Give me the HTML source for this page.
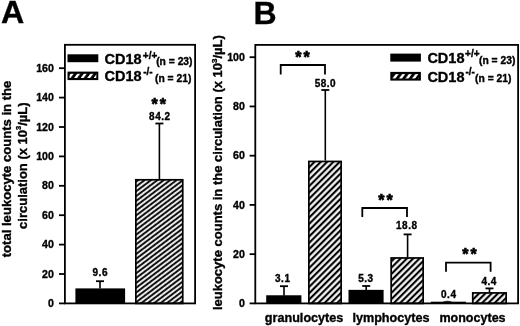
<!DOCTYPE html>
<html><head><meta charset="utf-8"><style>
html,body{margin:0;padding:0;background:#fff;width:520px;height:326px;overflow:hidden}
svg{display:block;will-change:transform}
#w{width:520px;height:326px}
text{font-family:"Liberation Sans",sans-serif;font-weight:bold;fill:#000;stroke:#000;stroke-width:0.35px}
</style></head><body>
<div id="w">
<svg width="520" height="326" viewBox="0 0 520 326">
<defs>
<pattern id="h" patternUnits="userSpaceOnUse" width="3.85" height="3.85" patternTransform="rotate(-37)">
<rect x="0" y="2.707" width="3.85" height="1.143" fill="#000"/>
<rect x="0" y="0" width="3.85" height="0.807" fill="#000"/>
</pattern>
<pattern id="hb" patternUnits="userSpaceOnUse" width="4.455" height="4.455" patternTransform="rotate(-45)">
<rect x="0" y="1.62" width="4.455" height="2.2" fill="#000"/>
</pattern>
<pattern id="hsA" patternUnits="userSpaceOnUse" width="6.55" height="40" patternTransform="skewX(-36.6)">
<rect x="1.0" y="0" width="3.0" height="40" fill="#fff"/>
</pattern>
<pattern id="hsB" patternUnits="userSpaceOnUse" width="6.55" height="40" patternTransform="skewX(-36.6)">
<rect x="-1.25" y="0" width="3.0" height="40" fill="#fff"/>
<rect x="5.3" y="0" width="3.0" height="40" fill="#fff"/>
</pattern>
</defs>
<rect width="520" height="326" fill="#fff"/>
<g>

<text x="1.0" y="23.3" font-size="32.2">A</text>
<text x="253.6" y="23.5" font-size="32">B</text>
<rect x="64.9" y="44.8" width="130.2" height="258.6" fill="none" stroke="#000" stroke-width="1.8"/>
<rect x="255.3" y="44.9" width="262.8" height="258.5" fill="none" stroke="#000" stroke-width="1.8"/>
<line x1="59" y1="303.40" x2="64.9" y2="303.40" stroke="#000" stroke-width="1.8"/>
<text x="53.9" y="307.00" font-size="10.6" text-anchor="end">0</text>
<line x1="59" y1="274.00" x2="64.9" y2="274.00" stroke="#000" stroke-width="1.8"/>
<text x="53.9" y="277.60" font-size="10.6" text-anchor="end">20</text>
<line x1="59" y1="244.60" x2="64.9" y2="244.60" stroke="#000" stroke-width="1.8"/>
<text x="53.9" y="248.20" font-size="10.6" text-anchor="end">40</text>
<line x1="59" y1="215.20" x2="64.9" y2="215.20" stroke="#000" stroke-width="1.8"/>
<text x="53.9" y="218.80" font-size="10.6" text-anchor="end">60</text>
<line x1="59" y1="185.80" x2="64.9" y2="185.80" stroke="#000" stroke-width="1.8"/>
<text x="53.9" y="189.40" font-size="10.6" text-anchor="end">80</text>
<line x1="59" y1="156.40" x2="64.9" y2="156.40" stroke="#000" stroke-width="1.8"/>
<text x="53.9" y="160.00" font-size="10.6" text-anchor="end">100</text>
<line x1="59" y1="127.00" x2="64.9" y2="127.00" stroke="#000" stroke-width="1.8"/>
<text x="53.9" y="130.60" font-size="10.6" text-anchor="end">120</text>
<line x1="59" y1="97.60" x2="64.9" y2="97.60" stroke="#000" stroke-width="1.8"/>
<text x="53.9" y="101.20" font-size="10.6" text-anchor="end">140</text>
<line x1="59" y1="68.20" x2="64.9" y2="68.20" stroke="#000" stroke-width="1.8"/>
<text x="53.9" y="71.80" font-size="10.6" text-anchor="end">160</text>
<line x1="249.6" y1="303.40" x2="255.3" y2="303.40" stroke="#000" stroke-width="1.8"/>
<text x="244.9" y="307.00" font-size="10.6" text-anchor="end">0</text>
<line x1="249.6" y1="254.16" x2="255.3" y2="254.16" stroke="#000" stroke-width="1.8"/>
<text x="244.9" y="257.76" font-size="10.6" text-anchor="end">20</text>
<line x1="249.6" y1="204.92" x2="255.3" y2="204.92" stroke="#000" stroke-width="1.8"/>
<text x="244.9" y="208.52" font-size="10.6" text-anchor="end">40</text>
<line x1="249.6" y1="155.68" x2="255.3" y2="155.68" stroke="#000" stroke-width="1.8"/>
<text x="244.9" y="159.28" font-size="10.6" text-anchor="end">60</text>
<line x1="249.6" y1="106.44" x2="255.3" y2="106.44" stroke="#000" stroke-width="1.8"/>
<text x="244.9" y="110.04" font-size="10.6" text-anchor="end">80</text>
<line x1="249.6" y1="57.20" x2="255.3" y2="57.20" stroke="#000" stroke-width="1.8"/>
<text x="244.9" y="60.80" font-size="10.6" text-anchor="end">100</text>
<rect x="75.40" y="288.39" width="49.70" height="15.01" fill="#000"/>
<line x1="100.00" y1="288.39" x2="100.00" y2="281.20" stroke="#000" stroke-width="1.6"/>
<line x1="96.00" y1="281.20" x2="104.00" y2="281.20" stroke="#000" stroke-width="1.8"/>
<text x="100.25" y="276.00" font-size="10.0" letter-spacing="0.5" text-anchor="middle">9.6</text>
<rect x="135.85" y="179.78" width="46.90" height="123.62" fill="url(#h)" stroke="#000" stroke-width="1.7"/>
<line x1="159.40" y1="178.93" x2="159.40" y2="123.50" stroke="#000" stroke-width="1.6"/>
<line x1="155.40" y1="123.50" x2="163.40" y2="123.50" stroke="#000" stroke-width="1.8"/>
<text x="159.85" y="119.70" font-size="10.0" letter-spacing="0.5" text-anchor="middle">84.2</text>
<text x="159.75" y="110.00" font-size="16" letter-spacing="2.0" text-anchor="middle" style="stroke-width:0.7px">**</text>
<rect x="266.20" y="295.27" width="35.20" height="8.13" fill="#000"/>
<line x1="284.00" y1="295.77" x2="284.00" y2="286.20" stroke="#000" stroke-width="1.6"/>
<line x1="280.00" y1="286.20" x2="288.00" y2="286.20" stroke="#000" stroke-width="1.8"/>
<text x="282.75" y="282.40" font-size="10.0" letter-spacing="0.5" text-anchor="middle">3.1</text>
<rect x="308.85" y="161.45" width="32.30" height="141.95" fill="url(#hb)" stroke="#000" stroke-width="1.7"/>
<line x1="325.30" y1="160.60" x2="325.30" y2="90.00" stroke="#000" stroke-width="1.6"/>
<line x1="321.30" y1="90.00" x2="329.30" y2="90.00" stroke="#000" stroke-width="1.8"/>
<text x="325.45" y="87.10" font-size="10.0" letter-spacing="0.5" text-anchor="middle">58.0</text>
<path d="M280.70 74.40V65.00H325.00V74.40" fill="none" stroke="#000" stroke-width="1.8"/>
<text x="303.50" y="62.50" font-size="16" letter-spacing="2.0" text-anchor="middle" style="stroke-width:0.7px">**</text>
<rect x="348.50" y="289.85" width="35.10" height="13.55" fill="#000"/>
<line x1="366.20" y1="290.35" x2="366.20" y2="286.00" stroke="#000" stroke-width="1.6"/>
<line x1="362.20" y1="286.00" x2="370.20" y2="286.00" stroke="#000" stroke-width="1.8"/>
<text x="365.85" y="282.20" font-size="10.0" letter-spacing="0.5" text-anchor="middle">5.3</text>
<rect x="391.15" y="257.96" width="32.00" height="45.44" fill="url(#hb)" stroke="#000" stroke-width="1.7"/>
<line x1="407.60" y1="257.11" x2="407.60" y2="234.40" stroke="#000" stroke-width="1.6"/>
<line x1="403.60" y1="234.40" x2="411.60" y2="234.40" stroke="#000" stroke-width="1.8"/>
<text x="406.75" y="229.00" font-size="10.0" letter-spacing="0.5" text-anchor="middle">18.8</text>
<path d="M362.30 216.90V208.00H407.00V216.90" fill="none" stroke="#000" stroke-width="1.8"/>
<text x="386.40" y="206.40" font-size="16" letter-spacing="2.0" text-anchor="middle" style="stroke-width:0.7px">**</text>
<rect x="430.80" y="301.70" width="35.20" height="1.70" fill="#000"/>
<path d="M442.5 301.8 Q447.5 299.6 452.5 301.8 Z" fill="#000"/>
<text x="448.75" y="297.70" font-size="10.0" letter-spacing="0.5" text-anchor="middle">0.4</text>
<rect x="472.75" y="292.92" width="33.40" height="10.48" fill="url(#hb)" stroke="#000" stroke-width="1.7"/>
<line x1="489.50" y1="292.07" x2="489.50" y2="288.40" stroke="#000" stroke-width="1.6"/>
<line x1="485.50" y1="288.40" x2="493.50" y2="288.40" stroke="#000" stroke-width="1.8"/>
<text x="489.15" y="284.70" font-size="10.0" letter-spacing="0.5" text-anchor="middle">4.4</text>
<path d="M446.00 271.70V262.60H490.60V271.70" fill="none" stroke="#000" stroke-width="1.8"/>
<text x="470.40" y="259.70" font-size="16" letter-spacing="2.0" text-anchor="middle" style="stroke-width:0.7px">**</text>
<text x="304.1" y="322" font-size="12.5" text-anchor="middle" textLength="78.5" lengthAdjust="spacingAndGlyphs">granulocytes</text>
<text x="391.0" y="322" font-size="12.5" text-anchor="middle" textLength="77.2" lengthAdjust="spacingAndGlyphs">lymphocytes</text>
<text x="472.5" y="322" font-size="12.5" text-anchor="middle" textLength="66.2" lengthAdjust="spacingAndGlyphs">monocytes</text>
<rect x="67.5" y="54.3" width="30.799999999999997" height="7.900000000000006" fill="#000"/>
<rect x="67.5" y="71.6" width="30.799999999999997" height="8.5" fill="#000"/>
<rect x="69.5" y="73.8" width="26.799999999999997" height="4.2" fill="url(#hsA)"/>
<text x="104.6" y="64.3" font-size="14.5">CD18</text>
<text x="142.8" y="59.3" font-size="10">+/+</text>
<text x="156.2" y="64.5" font-size="10.3">(n = 23)</text>
<text x="104.6" y="80.9" font-size="14.5">CD18</text>
<text x="143.2" y="74.9" font-size="10">-/-</text>
<text x="155.0" y="81.7" font-size="10.3">(n = 21)</text>
<rect x="390.3" y="53.6" width="30.599999999999966" height="8.0" fill="#000"/>
<rect x="390.3" y="71.9" width="30.599999999999966" height="8.699999999999989" fill="#000"/>
<rect x="392.3" y="74.10000000000001" width="26.599999999999966" height="4.399999999999989" fill="url(#hsB)"/>
<text x="427.4" y="63.1" font-size="14.5">CD18</text>
<text x="465.09999999999997" y="56.6" font-size="10">+/+</text>
<text x="479.0" y="63.5" font-size="10.3">(n = 23)</text>
<text x="427.4" y="81.6" font-size="14.5">CD18</text>
<text x="465.5" y="75.1" font-size="10">-/-</text>
<text x="475.1" y="82.39999999999999" font-size="10.3">(n = 21)</text>
<text transform="translate(10.6,169) rotate(-90)" x="0" y="0" font-size="13" text-anchor="middle" textLength="176.5" lengthAdjust="spacingAndGlyphs">total leukocyte counts in the</text>
<text transform="translate(26.5,165.7) rotate(-90)" x="0" y="0" font-size="13" text-anchor="middle" textLength="126.5" lengthAdjust="spacingAndGlyphs">circulation (x 10<tspan font-size="7.5" dy="-5.5">3</tspan><tspan dy="5.5">/µL)</tspan></text>
<text transform="translate(222.2,172.6) rotate(-90)" x="0" y="0" font-size="13" text-anchor="middle" textLength="275" lengthAdjust="spacingAndGlyphs">leukocyte counts in the circulation (x 10<tspan font-size="8" dy="-5.5">3</tspan><tspan dy="5.5">/µL)</tspan></text>
</g>
</svg>
</div>
</body></html>
